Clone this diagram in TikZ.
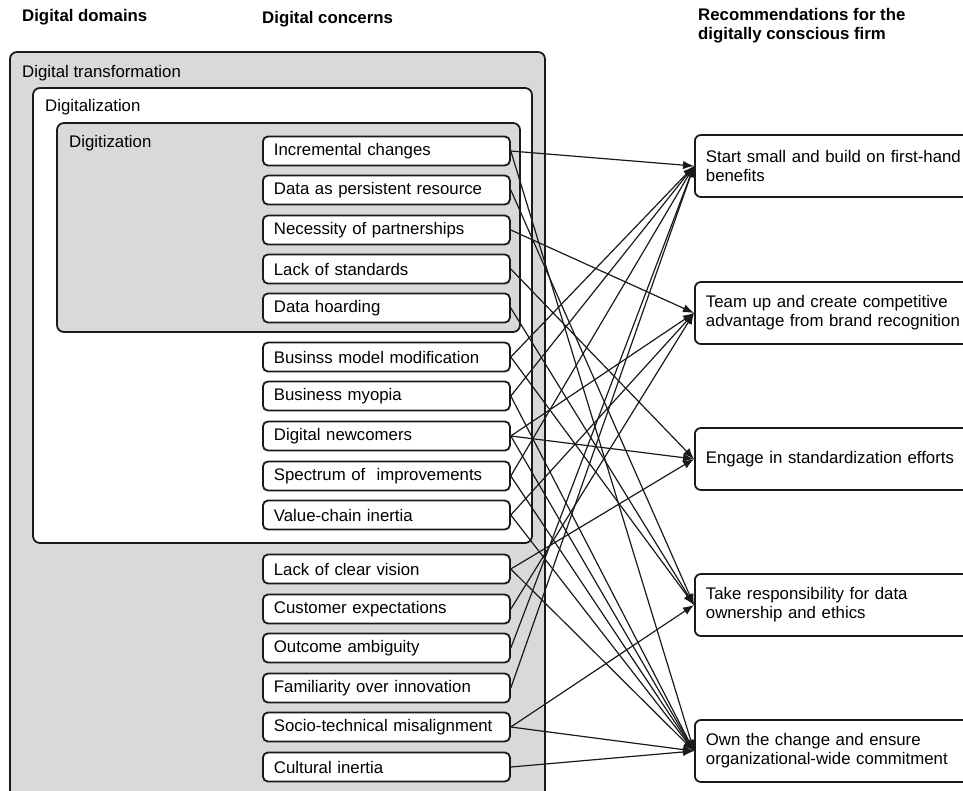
\documentclass[tikz,border=0pt]{standalone}
\usepackage{fontspec}
\setmainfont{Liberation Sans}
\usetikzlibrary{arrows.meta}
\definecolor{boxgray}{HTML}{D9D9D9}
\definecolor{ink}{HTML}{1A1A1A}
\tikzset{
  domainbox/.style={draw=ink, line width=1.8pt, rounded corners=7pt},
  concern/.style={draw=ink, fill=white, line width=1.8pt, rounded corners=5pt,
    anchor=west, text width=225pt, inner xsep=11pt, inner ysep=0pt,
    minimum height=29pt, align=left, font=\fontsize{16.8}{19}\selectfont},
  rec/.style={draw=ink, fill=white, line width=1.8pt, rounded corners=6pt,
    anchor=west, text width=270pt, inner xsep=11pt, inner ysep=0pt,
    minimum height=62pt, align=left, font=\fontsize{16.8}{19}\selectfont},
  lbl/.style={anchor=west, inner sep=0pt, font=\fontsize{16.8}{19}\selectfont},
  hdr/.style={anchor=west, inner sep=0pt, align=left, font=\fontsize{16.8}{19}\selectfont\bfseries},
  link/.style={draw=ink, line width=1.2pt, -{Latex[length=11pt,width=8.5pt]}}
}
\begin{document}
\begin{tikzpicture}[x=1pt,y=-1pt]
\useasboundingbox (0,0) rectangle (963,790);
\begin{scope}
\clip (0,0) rectangle (963,790);
% domain boxes
\draw[domainbox, fill=boxgray] (10,52) rectangle (545,820);
\draw[domainbox, fill=white] (33,88) rectangle (532,543);
\draw[domainbox, fill=boxgray] (57,123) rectangle (520,332);
\node[lbl] (ldt) at (22,73) {Digital transformation};
\node[lbl] (ldz) at (45,107) {Digitalization};
\node[lbl] (ldg) at (69,143) {Digitization};
% headers
\node[hdr] (h1) at (22,17) {Digital domains};
\node[hdr] (h2) at (262,19) {Digital concerns};
\node[hdr] (h3) at (698,26) {Recommendations for the\\digitally conscious firm};
% concerns
\node[concern] (c1) at (262,151) {Incremental changes};
\node[concern] (c2) at (262,190) {Data as persistent resource};
\node[concern] (c3) at (262,230) {Necessity of partnerships};
\node[concern] (c4) at (262,269) {Lack of standards};
\node[concern] (c5) at (262,308) {Data hoarding};
\node[concern] (c6) at (262,357) {Businss model modification};
\node[concern] (c7) at (262,396) {Business myopia};
\node[concern] (c8) at (262,436) {Digital newcomers};
\node[concern] (c9) at (262,476) {Spectrum of~ improvements};
\node[concern] (c10) at (262,515) {Value-chain inertia};
\node[concern] (c11) at (262,569) {Lack of clear vision};
\node[concern] (c12) at (262,609) {Customer expectations};
\node[concern] (c13) at (262,648) {Outcome ambiguity};
\node[concern] (c14) at (262,688) {Familiarity over innovation};
\node[concern] (c15) at (262,727) {Socio-technical misalignment};
\node[concern] (c16) at (262,767) {Cultural inertia};
% recommendations
\node[rec] (r1) at (694,166) {Start small and build on first-hand\\benefits};
\node[rec] (r2) at (694,313) {Team up and create competitive\\advantage from brand recognition};
\node[rec] (r3) at (694,459) {Engage in standardization efforts};
\node[rec] (r4) at (694,605) {Take responsibility for data\\ownership and ethics};
\node[rec] (r5) at (694,751) {Own the change and ensure\\organizational-wide commitment};
% links
\draw[link] (c1.east) -- (r1.west);
\draw[link] (c1.east) -- (r5.west);
\draw[link] (c2.east) -- (r4.west);
\draw[link] (c3.east) -- (r2.west);
\draw[link] (c4.east) -- (r3.west);
\draw[link] (c5.east) -- (r4.west);
\draw[link] (c6.east) -- (r1.west);
\draw[link] (c6.east) -- (r4.west);
\draw[link] (c7.east) -- (r1.west);
\draw[link] (c7.east) -- (r5.west);
\draw[link] (c8.east) -- (r2.west);
\draw[link] (c8.east) -- (r3.west);
\draw[link] (c8.east) -- (r5.west);
\draw[link] (c9.east) -- (r1.west);
\draw[link] (c9.east) -- (r5.west);
\draw[link] (c10.east) -- (r2.west);
\draw[link] (c10.east) -- (r5.west);
\draw[link] (c11.east) -- (r3.west);
\draw[link] (c11.east) -- (r5.west);
\draw[link] (c12.east) -- (r2.west);
\draw[link] (c13.east) -- (r1.west);
\draw[link] (c14.east) -- (r1.west);
\draw[link] (c15.east) -- (r4.west);
\draw[link] (c15.east) -- (r5.west);
\draw[link] (c16.east) -- (r5.west);
\end{scope}
\end{tikzpicture}
\end{document}
